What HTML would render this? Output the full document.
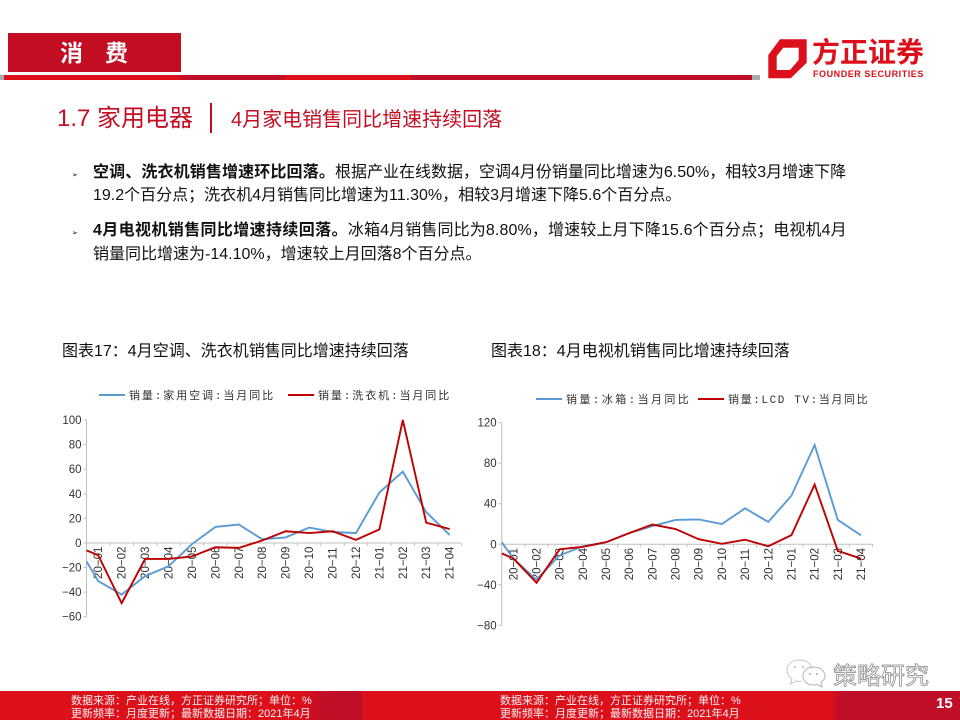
<!DOCTYPE html>
<html lang="zh-CN">
<head>
<meta charset="utf-8">
<title>消费 - 家用电器</title>
<style>
html,body{margin:0;padding:0;background:#fff}
#page{position:relative;width:960px;height:720px;overflow:hidden;background:#fff;font-family:"Liberation Sans","Noto Sans CJK SC",sans-serif;color:#000}
.a{position:absolute;white-space:nowrap}
.body-line{font-size:16px;line-height:24px;color:#111}
.foot{font-size:11px;line-height:13px;color:#fff;opacity:.95}
.chart-title{font-size:16px;line-height:20px;color:#111}
svg text{font-family:"Liberation Sans","Noto Sans CJK SC",sans-serif}
svg{overflow:visible}
</style>
</head>
<body>
<div id="page">
  <div class="a" style="left:8px;top:33px;width:173px;height:39px;background:#c30d23"></div>
  <div class="a" style="left:60px;top:38px;color:#fff;font-weight:bold;font-size:23px;line-height:30px;letter-spacing:0">消<span style="display:inline-block;width:22px"></span>费</div>

  <div class="a" style="left:0;top:75px;width:760px;height:5px;background:linear-gradient(90deg,#a8abae 0,#a8abae 4px,#dc101a 4px,#dc101a 180px,#c00f27 180px,#c00f27 285px,#dc101a 285px,#dc101a 411px,#c00f27 411px,#c00f27 752px,#a8abae 752px)"></div>

  <svg class="a" style="left:760px;top:30px" width="50" height="50" viewBox="760 30 50 50">
    <path fill="#dc101a" fill-rule="evenodd" d="M768.3 55 L780 39.3 L806.7 39.3 L806.7 62.7 L790.7 78.3 L768.3 78.3 Z M776.7 70 L790 70 L798.7 60 L798.7 47.7 L783.3 47.7 L776.7 56 Z"/>
  </svg>
  <div class="a" style="left:812px;top:33px;color:#dc101a;font-weight:bold;font-size:28px;line-height:36px;font-family:'Noto Sans CJK SC',sans-serif">方正证券</div>
  <div class="a" style="left:813px;top:68px;color:#dc101a;font-weight:bold;font-size:9px;line-height:12px;letter-spacing:.55px">FOUNDER SECURITIES</div>

  <div class="a" style="left:57px;top:103px;color:#c30d23;font-size:24px;line-height:32px">1.7 家用电器</div>
  <div class="a" style="left:210px;top:103px;width:2px;height:30px;background:#c30d23"></div>
  <div class="a" style="left:231px;top:106px;color:#c30d23;font-size:20px;line-height:28px">4月家电销售同比增速持续回落</div>

  <div class="a" style="left:72px;top:169px;font-size:7px;line-height:12px;font-family:'DejaVu Sans',sans-serif">➢</div>
  <div class="a body-line" style="left:93px;top:161px"><b style="letter-spacing:.13px">空调、洗衣机销售增速环比回落。</b>根据产业在线数据，空调4月份销量同比增速为6.50%，相较3月增速下降</div>
  <div class="a body-line" style="left:93px;top:184px">19.2个百分点；洗衣机4月销售同比增速为11.30%，相较3月增速下降5.6个百分点。</div>
  <div class="a" style="left:72px;top:227px;font-size:7px;line-height:12px;font-family:'DejaVu Sans',sans-serif">➢</div>
  <div class="a body-line" style="left:93px;top:219px;letter-spacing:.13px"><b style="letter-spacing:.37px">4月电视机销售同比增速持续回落。</b>冰箱4月销售同比为8.80%，增速较上月下降15.6个百分点；电视机4月</div>
  <div class="a body-line" style="left:93px;top:243px">销量同比增速为-14.10%，增速较上月回落8个百分点。</div>

  <div class="a chart-title" style="left:62px;top:342px">图表17：4月空调、洗衣机销售同比增速持续回落</div>
  <div class="a chart-title" style="left:491px;top:342px">图表18：4月电视机销售同比增速持续回落</div>

  <svg class="a" id="chart-left" style="left:0;top:370px" width="480" height="280" viewBox="0 370 480 280"></svg>
  <svg class="a" id="chart-right" style="left:480px;top:370px" width="480" height="280" viewBox="480 370 480 280"></svg>

  <svg class="a" style="left:784px;top:656px" width="46" height="36" viewBox="0 0 46 36">
    <path d="M15 4 C7 4 3 9 3 14 C3 18 5 21 8 23 L6.500 28 L12 25 C14 25.500 15 25.600 17 25.500 M15 4 C23 4 27 8 28 13" fill="none" stroke="#c8c8c8" stroke-width="1"/>
    <path d="M29 11 C23 11 19 15 19 20 C19 25 23 29 29 29 C31 29 32 28.800 33 28.300 L38 31 L37 26 C39.500 24.500 41 22 41 20 C41 15 36 11 29 11 Z" fill="none" stroke="#b5b5b5" stroke-width="1"/>
    <circle cx="11" cy="11" r="1" fill="#bbb"/><circle cx="19" cy="11" r="1" fill="#bbb"/>
    <circle cx="26" cy="18" r="1" fill="#aaa"/><circle cx="33" cy="18" r="1" fill="#aaa"/>
  </svg>
  <div class="a" style="left:833px;top:661px;font-size:24px;line-height:32px;color:#fff;-webkit-text-stroke:.7px #7f7f7f">策略研究</div>

  <div class="a" style="left:0;top:691px;width:960px;height:29px;background:linear-gradient(90deg,#dc101a 0,#dc101a 300px,#c00f27 325px,#c00f27 362px,#dc101a 362px,#dc101a 832px,#c00f27 838px)"></div>
  <div class="a foot" style="left:71px;top:695px">数据来源：产业在线，方正证券研究所；单位：%<br>更新频率：月度更新；最新数据日期：2021年4月</div>
  <div class="a foot" style="left:500px;top:695px">数据来源：产业在线，方正证券研究所；单位：%<br>更新频率：月度更新；最新数据日期：2021年4月</div>
  <div class="a" style="left:936px;top:695px;color:#fff;font-weight:bold;font-size:15px;line-height:18px">15</div>
</div>

<script>
const months = ['20−01','20−02','20−03','20−04','20−05','20−06','20−07','20−08','20−09','20−10','20−11','20−12','21−01','21−02','21−03','21−04'];

const acTicks = [100,80,60,40,20,0,-20,-40,-60];
const acLeadIn = -15;
const acValues = [-31,-42,-27,-19,-1,13,15,3,4.5,12.5,9,8,41,58,25,6.5];
const washerLeadIn = -6;
const washerValues = [-10,-49,-13,-13,-11,-3.5,-4,2,9.5,8,9.5,2.5,11,100,16.5,11.3];

const tvTicks = [120,80,40,0,-40,-80];
const fridgeLeadIn = 2;
const fridgeValues = [-14,-35,-11,-2,2,11,18,24,24.5,20,35.5,22,48,98,24,8.8];
const lcdLeadIn = -9;
const lcdValues = [-14,-38,-5,-2.5,2,11,19.5,15,5,0.5,4.5,-2,9,59,-6.5,-14.1];

const NS = 'http://www.w3.org/2000/svg';
const BLUE = '#5b9bd5';
const RED = '#c00000';
const AXIS = '#bfbfbf';

function make(parent, tag, attrs) {
  const el = document.createElementNS(NS, tag);
  for (const k in attrs) el.setAttribute(k, attrs[k]);
  parent.appendChild(el);
  return el;
}

function drawChart(svg, frame, ticks, cats, series) {
  const yMax = Math.max.apply(null, ticks);
  const yMin = Math.min.apply(null, ticks);
  const y = v => frame.yTop + (yMax - v) * (frame.yBottom - frame.yTop) / (yMax - yMin);
  const x = i => frame.xLeft + (i + 0.5) * frame.step;
  const xRight = x(cats.length - 1) + frame.step / 2;

  const yAxis = make(svg, 'line', {x1: frame.xLeft, x2: frame.xLeft, y1: y(yMax), y2: y(yMin), stroke: AXIS, 'stroke-width': 1});
  
  
  const xAxis = make(svg, 'line', {x1: frame.xLeft, x2: xRight, y1: y(0), y2: y(0), stroke: AXIS, 'stroke-width': 1});
  
  

  ticks.forEach(t => {
    make(svg, 'line', {x1: frame.xLeft - 3, x2: frame.xLeft, y1: y(t), y2: y(t), stroke: AXIS, 'stroke-width': 1});
    const label = make(svg, 'text', {x: frame.xLeft - 5, y: y(t) + 4, 'text-anchor': 'end', 'font-size': 11.5, fill: '#333'});
    label.textContent = String(t).replace('-', '−');
    
    
  });

  cats.forEach((c, i) => {
    const tx = frame.xLeft + (i + 1) * frame.step;
    make(svg, 'line', {x1: tx, x2: tx, y1: y(0), y2: y(0) + 3, stroke: AXIS, 'stroke-width': 1});
    const label = make(svg, 'text', {transform: 'translate(' + (x(i) + 4) + ',' + (y(0) + 36) + ') rotate(-90)', 'font-size': 11.5, fill: '#333'});
    label.textContent = c;
    
    
  });

  series.forEach(s => {
    let d = 'M' + frame.xLeft + ' ' + y(s.lead);
    s.values.forEach((v, i) => { d += ' L' + x(i).toFixed(2) + ' ' + y(v).toFixed(2); });
    const line = make(svg, 'path', {d: d, fill: 'none', stroke: s.color, 'stroke-width': 1.9, 'stroke-linejoin': 'miter'});
    
    

    const key = make(svg, 'line', {x1: s.keyX, x2: s.keyX + 26, y1: frame.legendY, y2: frame.legendY, stroke: s.color, 'stroke-width': 1.9});
    
    
    const text = make(svg, 'text', {x: s.keyX + 30, y: frame.legendY + 4, 'font-size': 11, 'letter-spacing': s.spacing, fill: '#333'});
    text.setAttribute('style', 'font-family:"Liberation Mono","Noto Sans CJK SC",sans-serif');
    text.textContent = s.name;
    
    
  });
}

drawChart(document.getElementById('chart-left'),
  {xLeft: 86.5, step: 23.43, yTop: 420, yBottom: 616.7, legendY: 395},
  acTicks, months,
  [
    {id: 'series-air-conditioner', name: '销量:家用空调:当月同比', color: BLUE, lead: acLeadIn, values: acValues, keyX: 99, spacing: 1.9},
    {id: 'series-washer', name: '销量:洗衣机:当月同比', color: RED, lead: washerLeadIn, values: washerValues, keyX: 288, spacing: 1.9}
  ]);

drawChart(document.getElementById('chart-right'),
  {xLeft: 501.7, step: 23.18, yTop: 422.7, yBottom: 625.3, legendY: 399},
  tvTicks, months,
  [
    {id: 'series-fridge', name: '销量:冰箱:当月同比', color: BLUE, lead: fridgeLeadIn, values: fridgeValues, keyX: 536, spacing: 2.4},
    {id: 'series-lcd-tv', name: '销量:LCD TV:当月同比', color: RED, lead: lcdLeadIn, values: lcdValues, keyX: 698, spacing: 1.6}
  ]);
</script>
</body>
</html>
